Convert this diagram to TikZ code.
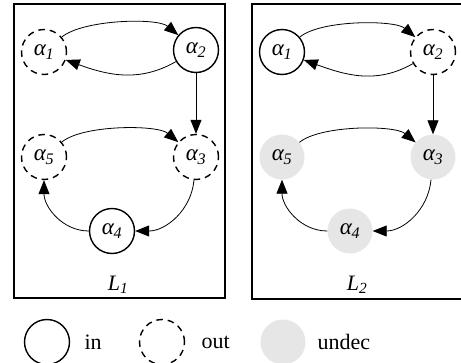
\documentclass[tikz,border=0pt]{standalone}
\usepackage{fontspec}
\setmainfont{Liberation Serif}
\usetikzlibrary{arrows.meta}
\newcommand{\al}[1]{\textit{α\kern-0.5pt\textsubscript{#1}}}
\definecolor{undecgray}{HTML}{E6E6E6}
\tikzset{
  base/.style={circle, minimum size=45pt, inner sep=0pt, font=\fontsize{23}{25}\selectfont},
  innode/.style={base, draw, line width=1.4pt},
  outnode/.style={base, draw, line width=1.4pt, dash pattern=on 6.5pt off 5pt},
  undecnode/.style={base, fill=undecgray},
  edge/.style={-{Triangle[length=14pt,width=11pt]}, line width=0.8pt},
  panel/.style={draw, line width=1.8pt},
  lbl/.style={font=\fontsize{22}{24}\selectfont\itshape},
  legtext/.style={anchor=west, font=\fontsize{22}{24}\selectfont}
}
\begin{document}
\begin{tikzpicture}[x=1pt, y=-1pt]
\useasboundingbox (0,0) rectangle (461,362);
% panels
\draw[panel] (14,4) rectangle (225,298);
\draw[panel] (252,4) rectangle (470,299);
% left panel
\node[outnode] (a1) at (44,52) {\al{1}};
\node[innode] (a2) at (196,50) {\al{2}};
\node[outnode] (a5) at (44,157) {\al{5}};
\node[outnode] (a3) at (196,157) {\al{3}};
\node[innode] (a4) at (112,231) {\al{4}};
\node[lbl] (l1) at (118,285) {L\textsubscript{1}};
\draw[edge] (a1) to[out=40,in=140,looseness=0.6] (a2);
\draw[edge] (a2) to[out=210,in=-20] (a1);
\draw[edge] (a2) -- (a3);
\draw[edge] (a5) to[out=40,in=140,looseness=0.6] (a3);
\draw[edge] (a3) to[out=-95,in=0] (a4);
\draw[edge] (a4) to[out=180,in=-90] (a5);
% right panel
\node[innode] (b1) at (282,52) {\al{1}};
\node[outnode] (b2) at (433,52) {\al{2}};
\node[undecnode] (b5) at (282,157) {\al{5}};
\node[undecnode] (b3) at (433,157) {\al{3}};
\node[undecnode] (b4) at (350,231) {\al{4}};
\node[lbl] (l2) at (357,285) {L\textsubscript{2}};
\draw[edge] (b1) to[out=40,in=140,looseness=0.6] (b2);
\draw[edge] (b2) to[out=210,in=-20] (b1);
\draw[edge] (b2) -- (b3);
\draw[edge] (b5) to[out=40,in=140,looseness=0.6] (b3);
\draw[edge] (b3) to[out=-95,in=0] (b4);
\draw[edge] (b4) to[out=180,in=-90] (b5);
% legend
\node[innode] (gin) at (47,342) {};
\node[legtext] (tin) at (81,342) {in};
\node[outnode] (gout) at (162,342) {};
\node[legtext] (tout) at (198,342) {out};
\node[undecnode] (gund) at (283,342) {};
\node[legtext] (tund) at (314,342) {undec};
\end{tikzpicture}
\end{document}
